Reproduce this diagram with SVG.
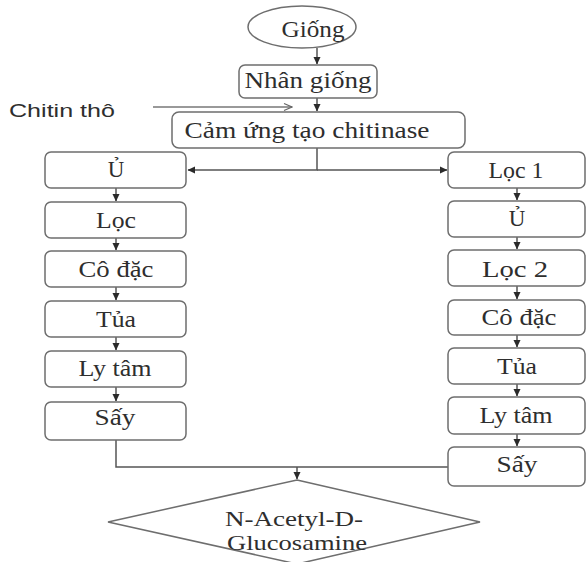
<svg xmlns="http://www.w3.org/2000/svg" width="586" height="562" viewBox="0 0 586 562">
<style>
.box{fill:#fff;stroke:#6e6e6e;stroke-width:1.5}
.t{font-family:"Liberation Serif","Times New Roman",serif;font-size:23px;fill:#2e2e2e;text-anchor:middle}
.d{font-size:21px}
.s{font-family:"Liberation Sans",Arial,sans-serif;font-size:18px;fill:#2e2e2e}
.ln{fill:none;stroke:#555;stroke-width:1.5}
.ln2{fill:none;stroke:#777;stroke-width:1.5}
</style>
<defs>
<marker id="ah" markerWidth="8" markerHeight="8" refX="7" refY="4" orient="auto" markerUnits="userSpaceOnUse"><path d="M0,0.5 L7.5,4 L0,7.5 z" fill="#2a2a2a"/></marker>
<marker id="open" markerWidth="10" markerHeight="10" refX="9" refY="5" orient="auto" markerUnits="userSpaceOnUse"><path d="M1,1.5 L9,5 L1,8.5" fill="none" stroke="#666" stroke-width="1.2"/></marker>
</defs>
<rect width="586" height="562" fill="#fff"/>
<g id="connectors">
<line class="ln" x1="317" y1="48" x2="317" y2="64" marker-end="url(#ah)"/>
<line class="ln" x1="317" y1="98" x2="317" y2="111" marker-end="url(#ah)"/>
<line class="ln2" x1="153" y1="107" x2="292" y2="107" marker-end="url(#open)"/>
<path class="ln" d="M317,148 V170 H188" marker-end="url(#ah)"/>
<path class="ln" d="M317,170 H447" marker-end="url(#ah)"/>
<line class="ln" x1="116" y1="188" x2="116" y2="201" marker-end="url(#ah)"/>
<line class="ln" x1="116" y1="238" x2="116" y2="250" marker-end="url(#ah)"/>
<line class="ln" x1="116" y1="287" x2="116" y2="300" marker-end="url(#ah)"/>
<line class="ln" x1="116" y1="337" x2="116" y2="350" marker-end="url(#ah)"/>
<line class="ln" x1="116" y1="387" x2="116" y2="401" marker-end="url(#ah)"/>
<line class="ln" x1="517" y1="188" x2="517" y2="200" marker-end="url(#ah)"/>
<line class="ln" x1="517" y1="237" x2="517" y2="249" marker-end="url(#ah)"/>
<line class="ln" x1="517" y1="286" x2="517" y2="299" marker-end="url(#ah)"/>
<line class="ln" x1="517" y1="335" x2="517" y2="347" marker-end="url(#ah)"/>
<line class="ln" x1="517" y1="384" x2="517" y2="396" marker-end="url(#ah)"/>
<line class="ln" x1="517" y1="434" x2="517" y2="446" marker-end="url(#ah)"/>
<path class="ln" d="M116,440 V467 H448"/>
<line class="ln" x1="297" y1="467" x2="297" y2="479" marker-end="url(#ah)"/>
</g>
<g id="giong">
<ellipse cx="302" cy="27" rx="54" ry="21" class="box"/>
<text class="t" x="313" y="37" textLength="63" lengthAdjust="spacingAndGlyphs">Giống</text>
</g>
<g id="nhan-giong">
<rect class="box" x="239" y="65" width="138" height="33" rx="6"/>
<text class="t" x="308" y="88" textLength="127" lengthAdjust="spacingAndGlyphs">Nhân giống</text>
</g>
<g id="chitin-tho">
<text class="s" x="9" y="117" textLength="106" lengthAdjust="spacingAndGlyphs">Chitin thô</text>
</g>
<g id="cam-ung">
<rect class="box" x="172" y="112" width="293" height="36" rx="7"/>
<text class="t" x="307" y="138" textLength="245" lengthAdjust="spacingAndGlyphs">Cảm ứng tạo chitinase</text>
</g>
<g id="l-u">
<rect class="box" x="45" y="152" width="141" height="36" rx="6"/>
<text class="t" x="116" y="177">Ủ</text>
</g>
<g id="l-loc">
<rect class="box" x="45" y="202" width="141" height="36" rx="6"/>
<text class="t" x="116" y="228" textLength="40" lengthAdjust="spacingAndGlyphs">Lọc</text>
</g>
<g id="l-co-dac">
<rect class="box" x="45" y="251" width="141" height="36" rx="6"/>
<text class="t" x="116" y="277" textLength="75" lengthAdjust="spacingAndGlyphs">Cô đặc</text>
</g>
<g id="l-tua">
<rect class="box" x="45" y="301" width="141" height="36" rx="6"/>
<text class="t" x="116" y="327" textLength="40" lengthAdjust="spacingAndGlyphs">Tủa</text>
</g>
<g id="l-ly-tam">
<rect class="box" x="45" y="351" width="141" height="36" rx="6"/>
<text class="t" x="115" y="376" textLength="73" lengthAdjust="spacingAndGlyphs">Ly tâm</text>
</g>
<g id="l-say">
<rect class="box" x="45" y="402" width="141" height="38" rx="6"/>
<text class="t" x="115" y="425" textLength="41" lengthAdjust="spacingAndGlyphs">Sấy</text>
</g>
<g id="r-loc1">
<rect class="box" x="448" y="152" width="137" height="36" rx="6"/>
<text class="t" x="516" y="178" textLength="55" lengthAdjust="spacingAndGlyphs">Lọc 1</text>
</g>
<g id="r-u">
<rect class="box" x="448" y="201" width="137" height="36" rx="6"/>
<text class="t" x="517" y="226">Ủ</text>
</g>
<g id="r-loc2">
<rect class="box" x="448" y="250" width="137" height="36" rx="6"/>
<text class="t" x="515" y="277" textLength="66" lengthAdjust="spacingAndGlyphs">Lọc 2</text>
</g>
<g id="r-co-dac">
<rect class="box" x="448" y="300" width="137" height="35" rx="6"/>
<text class="t" x="519" y="325" textLength="75" lengthAdjust="spacingAndGlyphs">Cô đặc</text>
</g>
<g id="r-tua">
<rect class="box" x="448" y="348" width="137" height="36" rx="6"/>
<text class="t" x="517" y="374" textLength="40" lengthAdjust="spacingAndGlyphs">Tủa</text>
</g>
<g id="r-ly-tam">
<rect class="box" x="448" y="397" width="137" height="37" rx="6"/>
<text class="t" x="516" y="423" textLength="73" lengthAdjust="spacingAndGlyphs">Ly tâm</text>
</g>
<g id="r-say">
<rect class="box" x="448" y="447" width="137" height="39" rx="6"/>
<text class="t" x="517" y="472" textLength="41" lengthAdjust="spacingAndGlyphs">Sấy</text>
</g>
<g id="nag">
<polygon class="box" points="297,480 480,522 297,564 108,522"/>
<text class="t d" x="294" y="526" textLength="138" lengthAdjust="spacingAndGlyphs">N-Acetyl-D-</text>
<text class="t d" x="297" y="550" textLength="140" lengthAdjust="spacingAndGlyphs">Glucosamine</text>
</g>
</svg>
